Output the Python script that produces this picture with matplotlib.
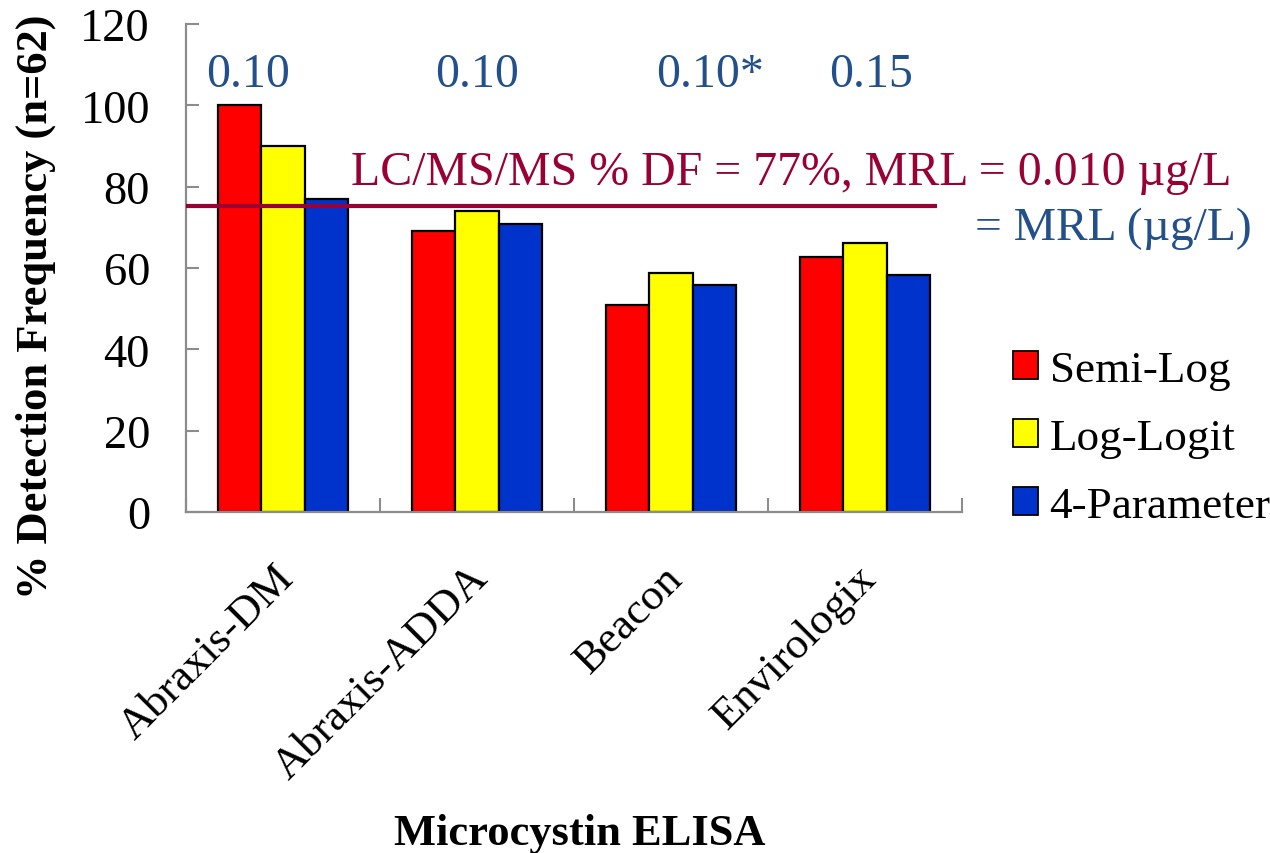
import matplotlib
matplotlib.use("Agg")
import matplotlib.pyplot as plt
import matplotlib.transforms as mtransforms
import numpy as np

categories = ["Abraxis-DM", "Abraxis-ADDA", "Beacon", "Envirologix"]
semi_log = [100.0, 69.0, 50.8, 62.7]
log_logit = [90.1, 74.1, 58.7, 66.1]
four_param = [77.0, 70.7, 55.8, 58.2]
series_names = ["Semi-Log", "Log-Logit", "4-Parameter"]
mrl_labels = ["0.10", "0.10", "0.10*", "0.15"]
mrl_label_x = [-0.18, 1.0, 2.2, 3.03]
lcms_line = 75.3
yticks = [0, 20, 40, 60, 80, 100, 120]

plt.rcParams['font.family'] = ['Liberation Serif', 'DejaVu Serif']

colors = ["#FF0000", "#FFFF00", "#0033CC"]
blue_txt = "#23508A"
maroon = "#990033"
spine_gray = "#8C8C8C"

fig = plt.figure(figsize=(12.7, 8.54), dpi=100)
ax = fig.add_axes([186/1270, 1-513/854, (962-186)/1270, (513-25)/854])

x = np.arange(len(categories))
w = 0.223
for k, vals in enumerate([semi_log, log_logit, four_param]):
    ax.bar(x + (k-1)*w, vals, width=w, color=colors[k], edgecolor="black",
           linewidth=1.6, label=series_names[k], zorder=2)

ax.set_xlim(-0.5, len(categories)-0.5)
ax.set_ylim(0, 120)
ax.set_yticks(yticks)
ax.tick_params(axis='y', direction='in', length=9, width=1.5, color=spine_gray,
               labelsize=33.5, pad=26)
ax.set_xticks(np.arange(-0.5, len(categories), 1.0))
ax.set_xticklabels([])
ax.tick_params(axis='x', which='major', direction='in', length=10, width=1.5, color=spine_gray)
ax.set_xticks(x, minor=True)
ax.set_xticklabels(categories, minor=True, rotation=45, ha='right', va='center',
                   rotation_mode='anchor', fontsize=32)
ax.tick_params(axis='x', which='minor', length=0, pad=43)
offset = mtransforms.ScaledTranslation(5/100, 0, fig.dpi_scale_trans)
for lab in ax.get_xticklabels(minor=True):
    lab.set_transform(lab.get_transform() + offset)

for s in ['top', 'right']:
    ax.spines[s].set_visible(False)
for s in ['left', 'bottom']:
    ax.spines[s].set_color(spine_gray)
    ax.spines[s].set_linewidth(1.6)

ax.plot([-0.5, 3.37], [lcms_line, lcms_line], color=maroon, linewidth=3, zorder=3,
        solid_capstyle='butt', clip_on=False)

for xl, t in zip(mrl_label_x, mrl_labels):
    ax.text(xl, 104.7, t, color=blue_txt, fontsize=34.5, ha='center', va='baseline')

ax.text(0.35, 80.6, "LC/MS/MS % DF = 77%, MRL = 0.010 µg/L", color=maroon,
        fontsize=34.5, ha='left', va='baseline', clip_on=False)
ax.text(3.567, 67.1, "= MRL (µg/L)", color=blue_txt, fontsize=34.2, ha='left',
        va='baseline', clip_on=False)

fig.text(36/1270, 1-307/854, "% Detection Frequency (n=62)", fontsize=32,
         fontweight='bold', rotation=90, ha='center', va='center')
fig.text(580/1270, 1-845/854, "Microcystin ELISA", fontsize=32, fontweight='bold',
         ha='center', va='baseline')

leg = fig.legend(loc='center left', bbox_to_anchor=(990/1270, 1-439/854), frameon=False,
                 fontsize=32.5, handlelength=0.56, handleheight=0.56, handletextpad=0.26,
                 labelspacing=0.62, borderpad=0)
for h in leg.legend_handles:
    h.set_linewidth(1.3)

fig.savefig("out.png", dpi=100)
